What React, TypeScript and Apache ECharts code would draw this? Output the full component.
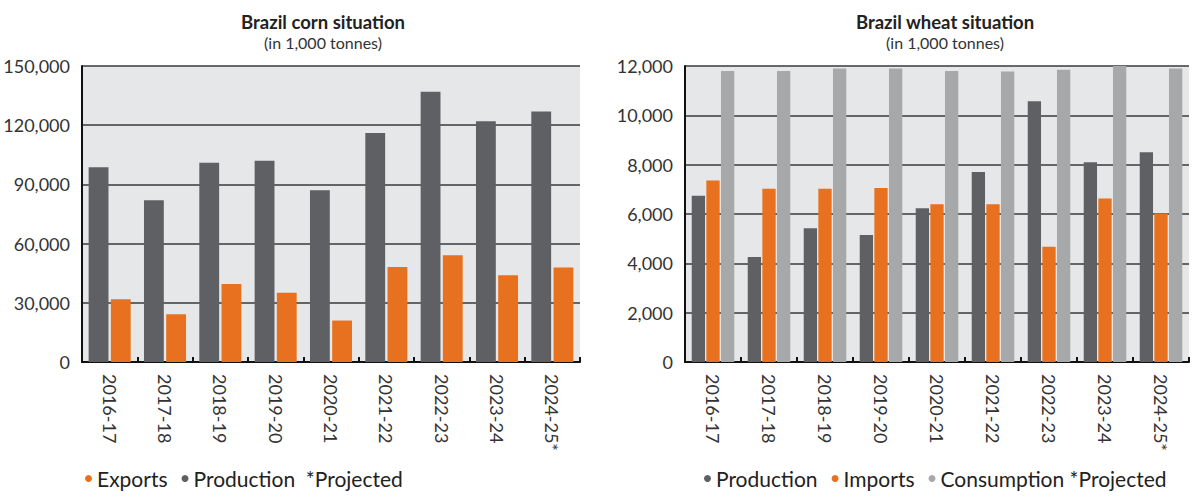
import React, { useEffect, useRef } from "react";
import * as echarts from "echarts";

const seasons = ["2016-17", "2017-18", "2018-19", "2019-20", "2020-21", "2021-22", "2022-23", "2023-24", "2024-25*"];

const cornProduction = [98700, 82000, 101000, 102000, 87000, 116000, 137000, 122000, 127000];
const cornExports = [31800, 24200, 39500, 35100, 21000, 48200, 54100, 44000, 47900];

const wheatProduction = [6740, 4260, 5420, 5150, 6230, 7700, 10570, 8100, 8500];
const wheatImports = [7360, 7020, 7020, 7050, 6400, 6400, 4670, 6630, 6020];
const wheatConsumption = [11800, 11800, 11900, 11900, 11800, 11780, 11850, 12000, 11900];

const cornTicks = [0, 30000, 60000, 90000, 120000, 150000];
const wheatTicks = [0, 2000, 4000, 6000, 8000, 10000, 12000];

const C_DARK = "#5f6064";
const C_ORANGE = "#e8711f";
const C_LIGHT = "#a7a8aa";
const FONT = "Lato";

const fmt = (v: number) => v.toLocaleString("en-US");

export default function App() {
  const ref = useRef<HTMLDivElement>(null);
  useEffect(() => {
    document.body.style.margin = "0";
    const chart = echarts.init(ref.current!, null, { renderer: "svg" });
    const yAxisBase = (ticks: number[]) => ({
      type: "value",
      min: ticks[0],
      max: ticks[ticks.length - 1],
      interval: ticks[1] - ticks[0],
      axisLine: { show: true, lineStyle: { color: "#111", width: 2 } },
      axisTick: { show: false },
      splitLine: { show: true, lineStyle: { color: "#3a3a3a", width: 1.5 } },
      axisLabel: { formatter: (v: number) => fmt(v), fontSize: 18, color: "#333", margin: 12, fontFamily: FONT },
    });
    const xAxisBase = {
      type: "category",
      data: seasons,
      axisLine: { show: true, lineStyle: { color: "#111", width: 2 } },
      axisTick: { show: true, inside: true, length: 5, lineStyle: { color: "#111", width: 2 } },
      axisLabel: { rotate: -90, fontSize: 18, color: "#333", margin: 12, fontFamily: FONT, interval: 0 },
    };
    const titleStyle = { fontSize: 18.5, fontWeight: "bold", color: "#222", fontFamily: FONT };
    const subStyle = { fontSize: 16, color: "#333", fontFamily: FONT };
    const legendText = { fontSize: 21, color: "#222", fontFamily: FONT };
    chart.setOption({
      animation: false,
      textStyle: { fontFamily: FONT },
      title: [
        {
          text: "Brazil corn situation",
          subtext: "(in 1,000 tonnes)",
          left: 318,
          top: 7,
          textAlign: "center",
          itemGap: 3,
          textStyle: titleStyle,
          subtextStyle: subStyle,
        },
        {
          text: "Brazil wheat situation",
          subtext: "(in 1,000 tonnes)",
          left: 940,
          top: 7,
          textAlign: "center",
          itemGap: 3,
          textStyle: titleStyle,
          subtextStyle: subStyle,
        },
      ],
      legend: [
        {
          data: ["Exports", "Production"],
          left: 80,
          top: 463,
          icon: "circle",
          itemWidth: 7,
          itemHeight: 7,
          itemGap: 14,
          textStyle: legendText,
          formatter: (n: string) => (n === "Production" ? "Production  *Projected" : n),
        },
        {
          data: ["Production ", "Imports", "Consumption"],
          left: 699,
          top: 463,
          icon: "circle",
          itemWidth: 7,
          itemHeight: 7,
          itemGap: 14,
          textStyle: legendText,
          formatter: (n: string) => (n === "Consumption" ? "Consumption *Projected" : n.trim()),
        },
      ],
      grid: [
        { left: 82, right: 620, top: 66, bottom: 137, show: true, backgroundColor: "#e6e7e8", borderWidth: 0 },
        { left: 685, right: 11, top: 66, bottom: 137, show: true, backgroundColor: "#e6e7e8", borderWidth: 0 },
      ],
      xAxis: [
        { ...xAxisBase, gridIndex: 0 },
        { ...xAxisBase, gridIndex: 1 },
      ],
      yAxis: [
        { ...yAxisBase(cornTicks), gridIndex: 0 },
        { ...yAxisBase(wheatTicks), gridIndex: 1 },
      ],
      series: [
        {
          name: "Production",
          type: "bar",
          xAxisIndex: 0,
          yAxisIndex: 0,
          data: cornProduction,
          itemStyle: { color: C_DARK },
          barGap: "12%",
          barCategoryGap: "24%",
        },
        {
          name: "Exports",
          type: "bar",
          xAxisIndex: 0,
          yAxisIndex: 0,
          data: cornExports,
          itemStyle: { color: C_ORANGE },
          barGap: "12%",
          barCategoryGap: "24%",
        },
        {
          name: "Production ",
          type: "bar",
          xAxisIndex: 1,
          yAxisIndex: 1,
          data: wheatProduction,
          itemStyle: { color: C_DARK },
          barGap: "10%",
          barCategoryGap: "24%",
        },
        {
          name: "Imports",
          type: "bar",
          xAxisIndex: 1,
          yAxisIndex: 1,
          data: wheatImports,
          itemStyle: { color: C_ORANGE },
          barGap: "10%",
          barCategoryGap: "24%",
        },
        {
          name: "Consumption",
          type: "bar",
          xAxisIndex: 1,
          yAxisIndex: 1,
          data: wheatConsumption,
          itemStyle: { color: C_LIGHT },
          barGap: "10%",
          barCategoryGap: "24%",
        },
      ],
    });
    return () => chart.dispose();
  }, []);
  return <div ref={ref} style={{ position: "absolute", left: 0, top: 0, width: 1200, height: 499 }} />;
}
